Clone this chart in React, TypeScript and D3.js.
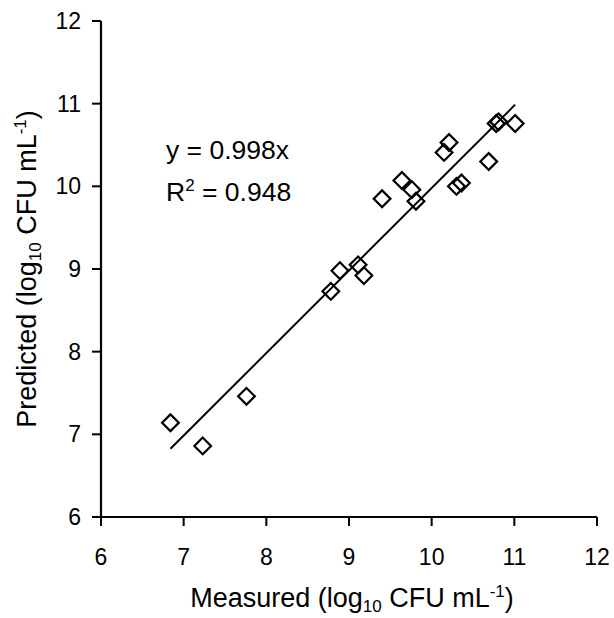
import React from "react";
import * as d3 from "d3";

const measured = [6.84, 7.23, 7.76, 8.78, 8.89, 9.11, 9.18, 9.40, 9.64, 9.76, 9.81, 10.15, 10.21, 10.30, 10.36, 10.69, 10.78, 10.81, 11.01];
const predicted = [7.14, 6.86, 7.46, 8.73, 8.98, 9.05, 8.92, 9.85, 10.07, 9.96, 9.82, 10.41, 10.53, 10.00, 10.04, 10.30, 10.76, 10.78, 10.76];
const slope = 0.998;
const xTicks = [6, 7, 8, 9, 10, 11, 12];
const yTicks = [6, 7, 8, 9, 10, 11, 12];

const font = "'Liberation Sans', Arial, sans-serif";

export default function App() {
  const width = 614;
  const height = 618;

  const x = d3.scaleLinear().domain([6, 12]).range([101, 597]);
  const y = d3.scaleLinear().domain([6, 12]).range([517, 21]);

  const diamond = d3.symbol().type(d3.symbolSquare).size(140)();

  const xMin = d3.min(measured) as number;
  const xMax = d3.max(measured) as number;
  const fit = d3.line<number>().x((d) => x(d)).y((d) => y(d * slope));

  return (
    <svg width={width} height={height} style={{ position: "absolute", left: 0, top: 0, background: "#fff" }} fontFamily={font}>
      {/* axes */}
      <line x1={x(6)} x2={x(12)} y1={y(6)} y2={y(6)} stroke="#000" strokeWidth={2.2} />
      <line x1={x(6)} x2={x(6)} y1={y(6)} y2={y(12)} stroke="#000" strokeWidth={2.2} />
      {xTicks.map((t) => (
        <g key={"x" + t}>
          <line x1={x(t)} x2={x(t)} y1={y(6)} y2={y(6) + 9} stroke="#000" strokeWidth={2} />
          <text x={x(t)} y={565} fontSize={23} textAnchor="middle">{t}</text>
        </g>
      ))}
      {yTicks.map((t) => (
        <g key={"y" + t}>
          <line x1={x(6) - 9} x2={x(6)} y1={y(t)} y2={y(t)} stroke="#000" strokeWidth={2} />
          <text x={81} y={y(t) + 8} fontSize={23} textAnchor="end">{t}</text>
        </g>
      ))}

      {/* trend line */}
      <path d={fit([xMin, xMax]) || ""} fill="none" stroke="#000" strokeWidth={2} />

      {/* points */}
      {measured.map((m, i) => (
        <path
          key={i}
          d={diamond || ""}
          transform={`translate(${x(m)},${y(predicted[i])}) rotate(45)`}
          fill="none"
          stroke="#000"
          strokeWidth={2.2}
        />
      ))}

      {/* equation */}
      <text x={166} y={159} fontSize={26.5}>y = 0.998x</text>
      <text x={166} y={201} fontSize={26.5}>
        R<tspan fontSize={17} dy={-10}>2</tspan>
        <tspan dy={10}> = 0.948</tspan>
      </text>

      {/* axis titles */}
      <text x={352} y={607} fontSize={27} textAnchor="middle">
        Measured (log<tspan fontSize={17} dy={5}>10</tspan>
        <tspan dy={-5}> CFU mL</tspan>
        <tspan fontSize={17} dy={-10}>-1</tspan>
        <tspan dy={10}>)</tspan>
      </text>
      <text transform="translate(36,269) rotate(-90)" fontSize={27} textAnchor="middle">
        Predicted (log<tspan fontSize={17} dy={5}>10</tspan>
        <tspan dy={-5}> CFU mL</tspan>
        <tspan fontSize={17} dy={-10}>-1</tspan>
        <tspan dy={10}>)</tspan>
      </text>
    </svg>
  );
}
